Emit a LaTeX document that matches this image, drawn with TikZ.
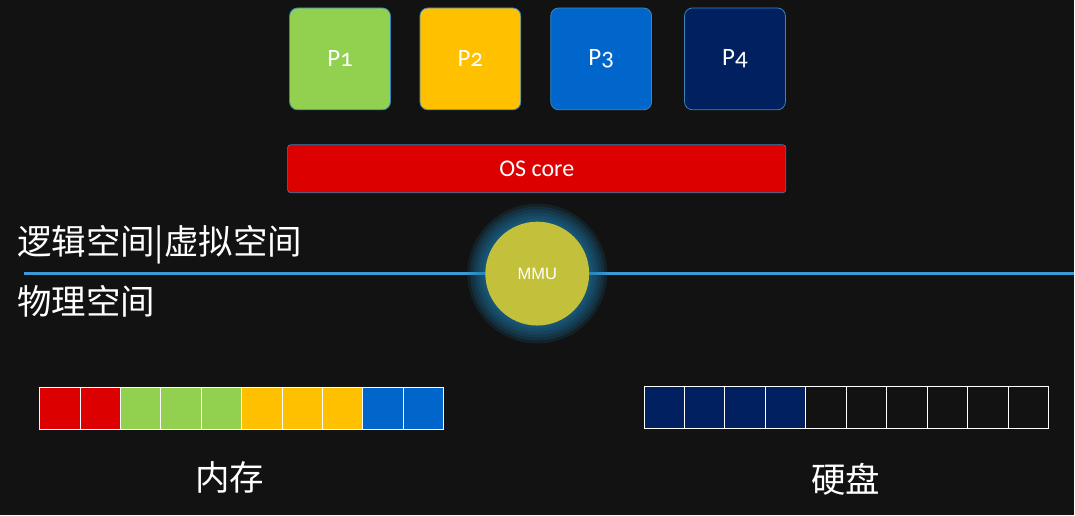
\documentclass[tikz,border=0pt]{standalone}
\usepackage{fontspec}
\setmainfont{Carlito}
\newfontfamily\cjk{Noto Sans CJK SC}
\newfontfamily\oldnum[Numbers=OldStyle]{Carlito}
\newfontfamily\mmufont{Liberation Sans}
\usepackage{tikz}
\usetikzlibrary{positioning}
\usepackage{xcolor}

\definecolor{board}{HTML}{121212}
\definecolor{pgreen}{HTML}{92D050}
\definecolor{pyellow}{HTML}{FFC000}
\definecolor{pblue}{HTML}{0066CC}
\definecolor{pnavy}{HTML}{002060}
\definecolor{osred}{HTML}{DD0000}
\definecolor{rimblue}{HTML}{3A86B8}
\definecolor{splitline}{HTML}{3B9AD6}
\definecolor{mmuolive}{HTML}{C3C03C}
\definecolor{glowblue}{HTML}{1F7FB0}

\tikzset{
  proc/.style={draw=rimblue, line width=0.8pt, rounded corners=8pt, inner sep=0pt,
    minimum width=101pt, minimum height=102pt, text=white,
    font=\oldnum\fontsize{25}{25}\selectfont},
  cell/.style={draw=white, line width=1pt, inner sep=0pt,
    minimum width=40.4pt, minimum height=42pt},
  bigtext/.style={text=white, inner sep=0pt, font=\cjk\fontsize{34.5}{34.5}\selectfont}
}

\begin{document}
\begin{tikzpicture}[x=1pt,y=1pt]
% 背景
\fill[board] (0,0) rectangle (1075,516);

% 进程
\node[proc, fill=pgreen] (p1) at (340.5,457) {P1};
\node[proc, fill=pyellow] (p2) at (471,457) {P2};
\node[proc, fill=pblue] (p3) at (602,457) {P3};
\node[proc, fill=pnavy] (p4) at (736,457) {P4};

% 内核
\node[draw=rimblue, line width=0.6pt, fill=osred, rounded corners=3pt, inner sep=0pt,
  minimum width=499pt, minimum height=48pt, text=white,
  font=\fontsize{24}{24}\selectfont] (os) at (537.5,347) {OS core};

% 分界线
\coordinate (lineL) at (24,242);
\coordinate (lineR) at (1075,242);
\draw[splitline, line width=3pt] (lineL) -- (lineR);
\node[bigtext, anchor=west] (virt) at (17,271) {逻辑空间|虚拟空间};
\node[bigtext, anchor=west] (phys) at (17,214) {物理空间};

% MMU
\foreach \r in {70,67,64,61,58,55}
  \fill[glowblue, opacity=0.15] (538,242) circle (\r);
\node[circle, fill=mmuolive, minimum size=104pt, inner sep=0pt, text=white,
  font=\mmufont\fontsize{16.5}{16.5}\selectfont] (mmu) at (538,242) {MMU};

% 内存
\foreach \c [count=\i] in {osred,osred,pgreen,pgreen,pgreen,pyellow,pyellow,pyellow,pblue,pblue}
  \node[cell, fill=\c] (m\i) at ({40+40.4*(\i-0.5)},107) {};
\node[bigtext] (mem) at (230,38) {内存};

% 硬盘
\foreach \c [count=\i] in {pnavy,pnavy,pnavy,pnavy,board,board,board,board,board,board}
  \node[cell, fill=\c, minimum width=40.5pt] (d\i) at ({645+40.5*(\i-0.5)},108) {};
\node[bigtext] (disk) at (847,36) {硬盘};
\end{tikzpicture}
\end{document}
